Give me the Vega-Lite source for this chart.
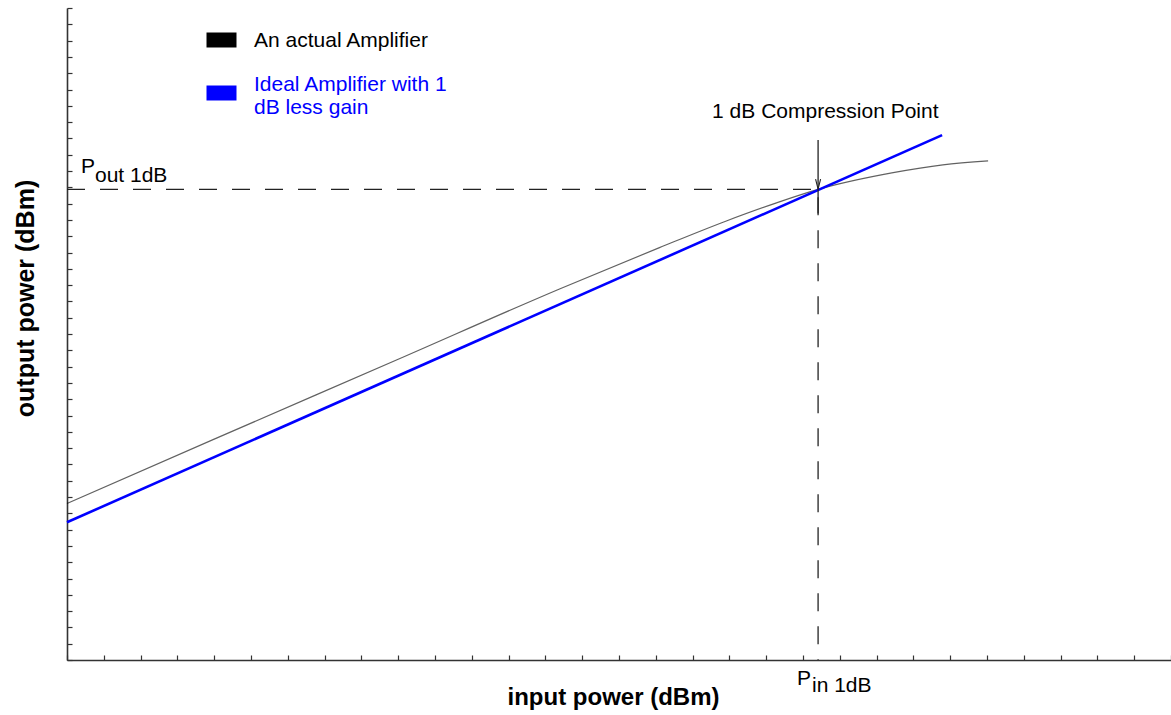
{
  "$schema": "https://vega.github.io/schema/vega-lite/v6.json",
  "width": 1104,
  "height": 652,
  "autosize": "none",
  "padding": {"left": 67, "top": 8, "right": 0, "bottom": 55},
  "background": "white",
  "config": {"view": {"stroke": null}, "font": "Liberation Sans"},
  "datasets": {
    "curves": [
      {"series": "An actual Amplifier", "pin": 0, "pout": 9.6},
      {"series": "An actual Amplifier", "pin": 4, "pout": 13.55},
      {"series": "An actual Amplifier", "pin": 9, "pout": 18.45},
      {"series": "An actual Amplifier", "pin": 13.4, "pout": 22.78},
      {"series": "An actual Amplifier", "pin": 16.1, "pout": 25.3},
      {"series": "An actual Amplifier", "pin": 17.9, "pout": 26.92},
      {"series": "An actual Amplifier", "pin": 19.3, "pout": 28.06},
      {"series": "An actual Amplifier", "pin": 20.41, "pout": 28.87},
      {"series": "An actual Amplifier", "pin": 22.45, "pout": 29.9},
      {"series": "An actual Amplifier", "pin": 23.8, "pout": 30.38},
      {"series": "An actual Amplifier", "pin": 25.03, "pout": 30.62},
      {"series": "Ideal Amplifier with 1 dB less gain", "pin": 0, "pout": 8.45},
      {"series": "Ideal Amplifier with 1 dB less gain", "pin": 23.78, "pout": 32.2}
    ],
    "guides": [
      {"step": 1, "pin": 0, "pout": 28.87},
      {"step": 2, "pin": 20.41, "pout": 28.87},
      {"step": 3, "pin": 20.41, "pout": 0}
    ],
    "arrow": [
      {"step": 1, "pin": 20.41, "pout": 31.9},
      {"step": 2, "pin": 20.41, "pout": 27.4}
    ],
    "head": [{"pin": 20.41, "pout": 29.2}],
    "notes": [
      {"text": "P", "pin": 0.38, "pout": 29.88},
      {"text": "out 1dB", "pin": 0.76, "pout": 29.33},
      {"text": "1 dB Compression Point", "pin": 17.53, "pout": 33.25},
      {"text": "P", "pin": 19.84, "pout": -1.53},
      {"text": "in 1dB", "pin": 20.245, "pout": -1.96}
    ]
  },
  "layer": [
    {
      "data": {"name": "curves"},
      "transform": [{"filter": "datum.series == 'An actual Amplifier'"}],
      "mark": {"type": "line", "interpolate": "monotone", "strokeWidth": 1.2, "strokeOpacity": 0.62},
      "encoding": {
        "x": {
          "field": "pin", "type": "quantitative",
          "scale": {"domain": [0, 30], "nice": false, "zero": false},
          "axis": {
            "title": "input power (dBm)",
            "values": [0,1,2,3,4,5,6,7,8,9,10,11,12,13,14,15,16,17,18,19,20,21,22,23,24,25,26,27,28,29,30],
            "tickCount": 200,
            "labels": false, "grid": false,
            "tickSize": -5,
            "tickColor": "#333333", "tickWidth": 1.2,
            "domainColor": "#333333", "domainWidth": 1.6,
            "encode": {"ticks": {"update": {"y2": {"signal": "datum.value % 10 === 0 ? -10 : -5"}}}},
            "titleFont": "Liberation Sans", "titleFontSize": 24, "titleFontWeight": "bold", "titleColor": "#000000",
            "titleX": 546, "titleY": 44, "titleBaseline": "alphabetic", "titleAlign": "center"
          }
        },
        "y": {
          "field": "pout", "type": "quantitative",
          "scale": {"domain": [0, 40], "nice": false, "zero": false},
          "axis": {
            "title": "output power (dBm)",
            "values": [0,1,2,3,4,5,6,7,8,9,10,11,12,13,14,15,16,17,18,19,20,21,22,23,24,25,26,27,28,29,30,31,32,33,34,35,36,37,38,39,40],
            "tickCount": 200,
            "labels": false, "grid": false,
            "tickSize": -5,
            "tickColor": "#333333", "tickWidth": 1.2,
            "domainColor": "#333333", "domainWidth": 1.6,
            "encode": {"ticks": {"update": {"x2": {"signal": "datum.value % 10 === 0 ? 9 : 5"}}}},
            "titleFont": "Liberation Sans", "titleFontSize": 25, "titleFontWeight": "bold", "titleColor": "#000000",
            "titleX": -34, "titleY": 290, "titleBaseline": "alphabetic", "titleAlign": "center", "titleAngle": -90
          }
        },
        "color": {
          "field": "series", "type": "nominal",
          "scale": {"domain": ["An actual Amplifier", "Ideal Amplifier with 1 dB less gain"], "range": ["#000000", "#0000ff"]},
          "legend": {
            "orient": "none", "legendX": 132, "legendY": 9.5, "title": null,
            "symbolType": "M-1,0H1", "symbolSize": 900, "symbolStrokeWidth": 15, "symbolOpacity": 1,
            "labelFont": "Liberation Sans", "labelFontSize": 21, "labelLimit": 600, "labelOffset": 10,
            "rowPadding": -26.5, "padding": 0,
            "labelExpr": "datum.value == 'Ideal Amplifier with 1 dB less gain' ? ['Ideal Amplifier with 1', 'dB less gain'] : datum.label",
            "encode": {
              "symbols": {"update": {
                "strokeWidth": {"value": 15},
                "strokeOpacity": {"value": 1},
                "opacity": {"value": 1}
              }},
              "labels": {"update": {
                "fill": {"signal": "datum.value == 'Ideal Amplifier with 1 dB less gain' ? '#0000ff' : '#000000'"},
                "lineHeight": {"value": 23},
                "dy": {"signal": "datum.value == 'Ideal Amplifier with 1 dB less gain' ? -8 : 1"}
              }}
            }
          }
        }
      }
    },
    {
      "data": {"name": "curves"},
      "transform": [{"filter": "datum.series == 'Ideal Amplifier with 1 dB less gain'"}],
      "mark": {"type": "line", "strokeWidth": 2.6},
      "encoding": {
        "x": {"field": "pin", "type": "quantitative"},
        "y": {"field": "pout", "type": "quantitative"},
        "color": {"field": "series", "type": "nominal"}
      }
    },
    {
      "data": {"name": "guides"},
      "mark": {"type": "line", "strokeDash": [18, 15], "color": "#222222", "strokeWidth": 1.3},
      "encoding": {
        "x": {"field": "pin", "type": "quantitative"},
        "y": {"field": "pout", "type": "quantitative"},
        "order": {"field": "step", "type": "quantitative"}
      }
    },
    {
      "data": {"name": "arrow"},
      "mark": {"type": "line", "color": "#222222", "strokeWidth": 1.3},
      "encoding": {
        "x": {"field": "pin", "type": "quantitative"},
        "y": {"field": "pout", "type": "quantitative"},
        "order": {"field": "step", "type": "quantitative"}
      }
    },
    {
      "data": {"name": "head"},
      "mark": {"type": "point", "shape": "M-0.5,-1L0,1L0.5,-1", "size": 100, "filled": false, "stroke": "#222222", "strokeWidth": 1.1, "opacity": 1},
      "encoding": {
        "x": {"field": "pin", "type": "quantitative"},
        "y": {"field": "pout", "type": "quantitative"}
      }
    },
    {
      "data": {"name": "notes"},
      "mark": {"type": "text", "align": "left", "baseline": "alphabetic", "fontSize": 21, "font": "Liberation Sans", "color": "#000000"},
      "encoding": {
        "x": {"field": "pin", "type": "quantitative"},
        "y": {"field": "pout", "type": "quantitative"},
        "text": {"field": "text"}
      }
    }
  ]
}
